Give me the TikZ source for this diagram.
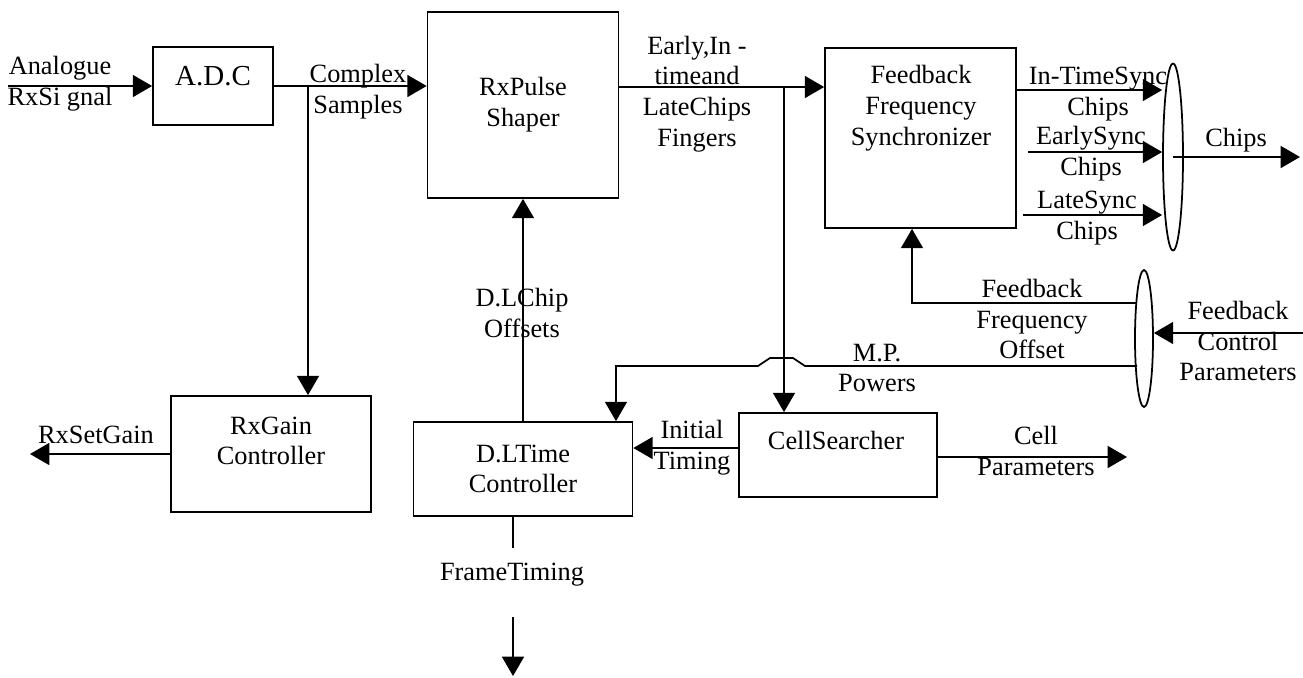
\documentclass[tikz,border=0pt]{standalone}
\usepackage{fontspec}
\setmainfont{Liberation Serif}
\usetikzlibrary{shapes.geometric, arrows.meta, positioning}

\begin{document}
\begin{tikzpicture}[
    x=0.02cm, y=-0.02cm,
    >={Triangle[length=11pt, width=12.5pt]},
    block/.style={
        rectangle, draw, line width=1pt, inner sep=0pt,
        align=center, font=\fontsize{15}{17.5}\selectfont
    },
    txt/.style={align=center, inner sep=0pt, font=\fontsize{15}{17.5}\selectfont},
    bundle/.style={ellipse, draw, line width=1pt, inner sep=0pt},
    wire/.style={line width=1pt},
    sig/.style={->, line width=1pt}
]
\useasboundingbox (0,0) rectangle (1303,677);

% Blocks
\node[block, minimum width=2.4cm, minimum height=1.56cm] (adc) at (213,86) {};
\node[txt, font=\fontsize{16.5}{19}\selectfont] (adctxt) at (213,76) {A.D.C};
\node[block, minimum width=3.82cm, minimum height=3.72cm] (psh) at (523,105) {RxPulse\\Shaper};
\node[block, minimum width=3.82cm, minimum height=3.6cm] (ffs) at (920.5,138) {};
\node[txt] (ffstxt) at (921,108) {Feedback\\Frequency\\Synchronizer};
\node[block, minimum width=4cm, minimum height=2.32cm] (rxg) at (271,454) {};
\node[txt] (rxgtxt) at (271,441) {RxGain\\Controller};
\node[block, minimum width=4.38cm, minimum height=1.88cm] (dlt) at (523,469) {D.LTime\\Controller};
\node[block, minimum width=3.96cm, minimum height=1.68cm] (cs) at (838,455) {};
\node[txt] (cstxt) at (836,440) {CellSearcher};

% Bundles
\node[bundle, minimum width=0.4cm, minimum height=3.74cm] (chipbus) at (1173,157) {};
\node[bundle, minimum width=0.36cm, minimum height=2.74cm] (fbbus) at (1144,338.5) {};

% Free ends
\coordinate (ain) at (8,86);
\coordinate (j1) at (308,86);
\coordinate (pout) at (618,87);
\coordinate (j2) at (784,87);
\coordinate (o1) at (1016,90);
\coordinate (o2) at (1028,152);
\coordinate (o3) at (1023,215);
\coordinate (chout) at (1300,157);
\coordinate (fbs) at (1136,303);
\coordinate (cpin) at (1303,333);
\coordinate (mps) at (1137,366);
\coordinate (csin) at ([yshift=0.14cm]cs.west);
\coordinate (cpout) at (1127,457);
\coordinate (gout) at (30,454);
\coordinate (ftop) at (513,617);
\coordinate (fbot) at (513,676);

% Connectors
\draw[sig] (ain) -- (ain -| adc.west);
\draw[sig] (adc.east) -- (psh.west |- adc.east);
\draw[sig] (j1) -- (j1 |- rxg.north);
\draw[sig] (pout) -- (pout -| ffs.west);
\draw[sig] (j2) -- (j2 |- cs.north);
\draw[sig] (o1) -- (o1 -| chipbus.west);
\draw[sig] (o2) -- (o2 -| chipbus.west);
\draw[sig] (o3) -- (o3 -| chipbus.west);
\draw[sig] (chipbus.center) -- (chout);
\draw[sig] (fbs) -| ([xshift=-0.17cm]ffs.south);
\draw[sig] (cpin) -- (cpin -| fbbus.east);
\draw[sig] (mps) -- ([xshift=0.42cm]j2 |- mps) -- ++(-12,-8) -- ++(-23,0) -- ++(-12,8)
    -| ([xshift=1.86cm]dlt.north);
\draw[sig] (dlt.north) -- (psh.south);
\draw[sig] (csin) -- (csin -| dlt.east);
\draw[sig] (cs.east |- cpout) -- (cpout);
\draw[sig] (rxg.west) -- (gout);
\draw[wire] ([xshift=-0.2cm]dlt.south) -- ++(0,31);
\draw[sig] (ftop) -- (fbot);

% Labels
\node[txt] (lblana) at (60,84) {Analogue\\RxSi gnal};
\node[txt] (lblcplx) at (358,92) {Complex\\Samples};
\node[txt] (lblearly) at (697,94) {Early,In -\\timeand\\LateChips\\Fingers};
\node[txt] (lblit) at (1098,94) {In-TimeSync\\Chips};
\node[txt] (lbles) at (1091,154) {EarlySync\\Chips};
\node[txt] (lblls) at (1087,218) {LateSync\\Chips};
\node[txt] (lblchips) at (1236,140) {Chips};
\node[txt] (lblffo) at (1032,319) {Feedback\\Frequency\\Offset};
\node[txt] (lblfcp) at (1238,341) {Feedback\\Control\\Parameters};
\node[txt] (lblmp) at (877,368) {M.P.\\Powers};
\node[txt] (lbldlc) at (522,313) {D.LChip\\Offsets};
\node[txt] (lblinit) at (692,448) {Initial\\Timing};
\node[txt] (lblcell) at (1036,451) {Cell\\Parameters};
\node[txt] (lblgain) at (96,435) {RxSetGain};
\node[txt] (lblft) at (512,575) {FrameTiming};

\end{tikzpicture}
\end{document}
